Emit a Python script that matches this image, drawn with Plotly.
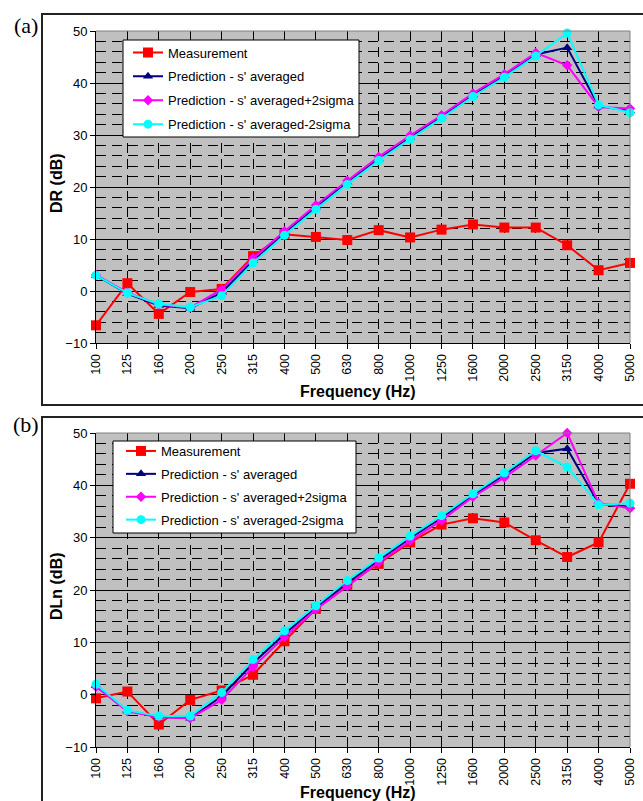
import plotly.graph_objects as go

W, H = 643, 801

freqs = ["100", "125", "160", "200", "250", "315", "400", "500", "630", "800",
         "1000", "1250", "1600", "2000", "2500", "3150", "4000", "5000"]

# (a) DR
dr_meas = [-6.6, 1.5, -4.4, -0.2, 0.4, 6.7, 10.9, 10.4, 9.8, 11.7, 10.3, 11.8, 12.8, 12.2, 12.2, 8.8, 4.0, 5.4]
dr_avg = [3.0, -0.5, -2.8, -3.3, -0.3, 5.8, 11.1, 16.1, 20.9, 25.4, 29.5, 33.5, 37.7, 41.4, 45.5, 46.8, 35.6, 34.6]
dr_plus = [3.1, -0.3, -2.6, -3.2, 0.3, 6.3, 11.5, 16.5, 21.2, 25.8, 29.9, 33.8, 38.0, 41.7, 45.8, 43.4, 35.4, 35.1]
dr_minus = [3.0, -0.4, -2.5, -3.1, -0.9, 5.4, 10.7, 15.7, 20.5, 25.1, 29.2, 33.2, 37.4, 41.1, 45.2, 49.6, 35.8, 34.3]

# (b) DLn
dln_meas = [-0.7, 0.6, -5.7, -1.0, 0.8, 3.8, 10.2, 16.4, 21.0, 25.0, 29.1, 32.5, 33.7, 32.9, 29.5, 26.3, 29.1, 40.3]
dln_avg = [1.7, -3.1, -4.2, -4.5, -0.3, 6.0, 11.6, 16.6, 21.4, 25.7, 29.9, 33.8, 38.1, 42.0, 46.2, 47.0, 36.5, 35.9]
dln_plus = [1.5, -3.2, -4.3, -4.5, -1.0, 5.3, 11.0, 16.3, 20.7, 25.3, 29.4, 33.3, 37.8, 41.5, 45.7, 50.0, 36.6, 35.6]
dln_minus = [2.0, -3.0, -4.1, -4.1, 0.4, 6.7, 12.2, 17.0, 21.8, 26.1, 30.3, 34.2, 38.4, 42.4, 46.6, 43.5, 36.3, 36.6]

names = ["Measurement", "Prediction - s' averaged",
         "Prediction - s' averaged+2sigma", "Prediction - s' averaged-2sigma"]
colors = ["#FF0000", "#000080", "#FF00FF", "#00FFFF"]
symbols = ["square", "triangle-up", "diamond", "circle"]
msizes = [10, 9, 8, 9]

FONT = "Liberation Sans, Arial, sans-serif"
SERIF = "Liberation Serif, Times New Roman, serif"

def px_x(px):
    return px / W

def px_y(py):
    return 1 - py / H

fig = go.Figure()

panels = [
    (dr_meas, dr_avg, dr_plus, dr_minus, "x", "y", "legend"),
    (dln_meas, dln_avg, dln_plus, dln_minus, "x2", "y2", "legend2"),
]
for pi, (m, a, p, n, xa, ya, lg) in enumerate(panels):
    for i, ser in enumerate([m, a, p, n]):
        fig.add_trace(go.Scatter(
            x=freqs, y=ser, name=names[i], mode="lines+markers",
            line=dict(color=colors[i], width=2),
            marker=dict(symbol=symbols[i], size=msizes[i], color=colors[i]),
            xaxis=xa, yaxis=ya, legend=lg, legendgroup=f"{pi}_{i}",
            cliponaxis=False,
        ))

xdom = [px_x(96), px_x(630)]
top_dom = [px_y(343), px_y(31)]
bot_dom = [px_y(747), px_y(433)]
DASH = "10px,6px"

def xaxis_cfg(anchor):
    return dict(
        type="category", categoryorder="array", categoryarray=freqs,
        domain=xdom, anchor=anchor, range=[0, len(freqs) - 1],
        showline=True, linecolor="black", linewidth=1,
        ticks="outside", ticklen=5, tickcolor="black",
        tickangle=-90, tickfont=dict(family=FONT, size=12.5, color="black"),
        showgrid=True, gridcolor="black", gridwidth=1, griddash=DASH,
        zeroline=False, automargin=False,
    )

def yaxis_cfg(anchor, dom):
    return dict(
        domain=dom, anchor=anchor, range=[-10, 50], dtick=10, tick0=0,
        showline=True, linecolor="black", linewidth=1,
        ticks="outside", ticklen=5, tickcolor="black",
        tickfont=dict(family=FONT, size=13, color="black"),
        showgrid=True, gridcolor="black", gridwidth=1,
        minor=dict(dtick=2, showgrid=True, gridcolor="black", gridwidth=1,
                   griddash=DASH, ticks=""),
        zeroline=False, automargin=False,
    )

leg_common = dict(
    bgcolor="rgba(0,0,0,0)", borderwidth=0,
    font=dict(family=FONT, size=13, color="black"),
    xanchor="left", yanchor="top",
    traceorder="grouped",
)

shapes = []
# plot area gray borders (top and right)
for xr, yr in [("x domain", "y domain"), ("x2 domain", "y2 domain")]:
    shapes.append(dict(type="line", xref=xr, yref=yr, x0=0, x1=1, y0=1, y1=1,
                       line=dict(color="#808080", width=1), layer="above"))
    shapes.append(dict(type="line", xref=xr, yref=yr, x0=1, x1=1, y0=0, y1=1,
                       line=dict(color="#808080", width=1), layer="above"))
# legend boxes
for (x0, x1, y0, y1) in [(123, 359, 40, 137), (113, 356, 441, 533)]:
    shapes.append(dict(type="rect", xref="paper", yref="paper",
                       x0=px_x(x0), x1=px_x(x1), y0=px_y(y1), y1=px_y(y0),
                       fillcolor="white", line=dict(color="black", width=1),
                       layer="above"))
# outer frames
shapes.append(dict(type="rect", xref="paper", yref="paper",
                   x0=px_x(42), x1=px_x(660), y0=px_y(405), y1=px_y(14),
                   line=dict(color="#222222", width=2)))
shapes.append(dict(type="rect", xref="paper", yref="paper",
                   x0=px_x(42), x1=px_x(660), y0=px_y(830), y1=px_y(417),
                   line=dict(color="#222222", width=2)))

def ann(text, x, y, size, family=FONT, angle=0):
    return dict(text=text, x=px_x(x), y=px_y(y), xref="paper", yref="paper",
                xanchor="center", yanchor="middle", textangle=angle,
                showarrow=False, font=dict(family=family, size=size, color="black"))

annotations = [
    ann("(a)", 26, 26, 22, SERIF),
    ann("(b)", 26, 425, 22, SERIF),
    ann("<b>DR (dB)</b>", 56, 183, 16, angle=-90),
    ann("<b>DLn (dB)</b>", 56, 586, 16, angle=-90),
    ann("<b>Frequency (Hz)</b>", 358, 391, 16),
    ann("<b>Frequency (Hz)</b>", 358, 792, 16),
]

fig.update_layout(
    width=W, height=H, margin=dict(l=0, r=0, t=0, b=0, pad=0, autoexpand=False),
    paper_bgcolor="white", plot_bgcolor="#C0C0C0",
    xaxis=xaxis_cfg("y"), yaxis=yaxis_cfg("x", top_dom),
    xaxis2=xaxis_cfg("y2"), yaxis2=yaxis_cfg("x2", bot_dom),
    legend=dict(x=px_x(128), y=px_y(37.5), tracegroupgap=4, **leg_common),
    legend2=dict(x=px_x(121), y=px_y(436), tracegroupgap=3, **leg_common),
    shapes=shapes, annotations=annotations,
    showlegend=True,
)

fig.write_html("out.html")
